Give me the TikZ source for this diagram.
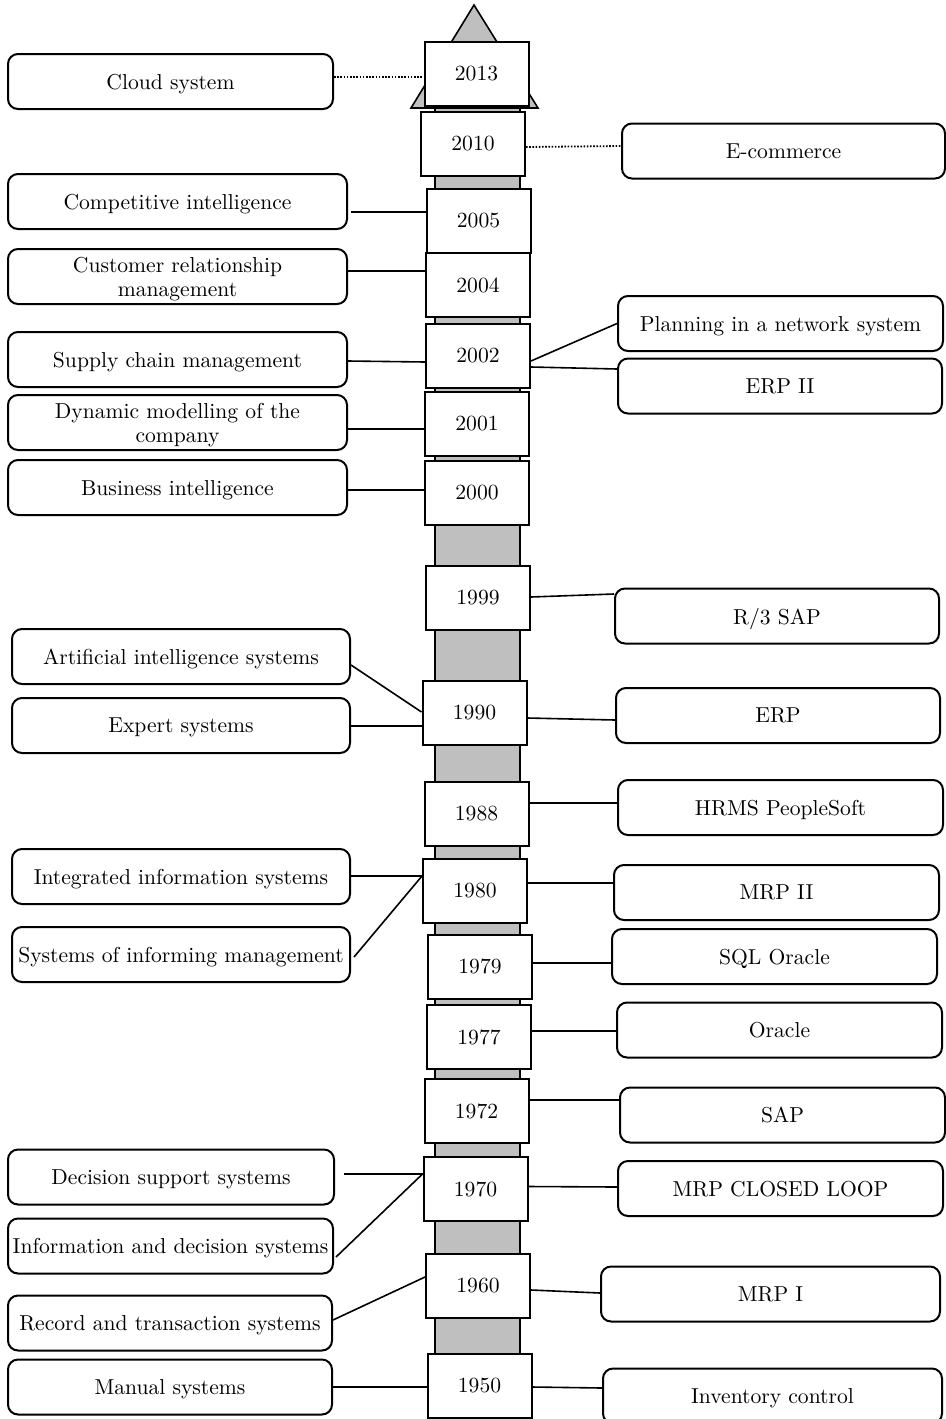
\documentclass[tikz,border=0pt]{standalone}
\usepackage{tikz}
\definecolor{shaftgray}{RGB}{191,191,191}
\tikzset{
  yr/.style={draw, fill=white, line width=1pt, minimum width=52pt, minimum height=32pt, inner sep=0pt, font=\fontsize{10.8}{12.5}\selectfont},
  lbox/.style={draw, fill=white, rounded corners=5pt, line width=1pt, minimum height=27.5pt, inner sep=0pt, text depth=0pt, align=center, font=\fontsize{10.8}{12}\selectfont},
  conn/.style={line width=0.8pt},
  dotconn/.style={line width=0.9pt, dash pattern=on 0.8pt off 0.8pt}
}
\begin{document}
\begin{tikzpicture}[x=0.5pt, y=-0.5pt]
\useasboundingbox (0,0) rectangle (946,1419);
% shaft and arrow head
\draw[fill=shaftgray, line width=1pt] (435,108) rectangle (520,1419);
\draw[fill=shaftgray, line width=0.8pt, line join=miter] (474,5) -- (538,108) -- (411,108) -- cycle;
% year boxes
\node[yr] (y2013) at (476.5,73.5) {2013};
\node[yr] (y2010) at (473,144) {2010};
\node[yr] (y2005) at (478.5,221) {2005};
\node[yr] (y2004) at (478,285) {2004};
\node[yr] (y2002) at (478,355.5) {2002};
\node[yr] (y2001) at (477,424) {2001};
\node[yr] (y2000) at (477,492.5) {2000};
\node[yr] (y1999) at (478,597.5) {1999};
\node[yr] (y1990) at (474.5,713) {1990};
\node[yr] (y1988) at (476.5,814) {1988};
\node[yr] (y1980) at (475,891) {1980};
\node[yr] (y1979) at (480,966.5) {1979};
\node[yr] (y1977) at (479,1037) {1977};
\node[yr] (y1972) at (476.5,1111) {1972};
\node[yr] (y1970) at (475.5,1189) {1970};
\node[yr] (y1960) at (478,1286) {1960};
\node[yr] (y1950) at (479.5,1386) {1950};
% left boxes
\node[lbox, minimum width=162.5pt] (cloud) at (170.5,81.5) {Cloud system};
\node[lbox, minimum width=169.5pt] (comp) at (177.5,201.5) {Competitive intelligence};
\node[lbox, minimum width=169.5pt] (crm) at (177.5,276.5) {Customer relationship\\management};
\node[lbox, minimum width=169.5pt] (scm) at (177.5,359.5) {Supply chain management};
\node[lbox, minimum width=169.5pt] (dyn) at (177.5,422.5) {Dynamic modelling of the\\company};
\node[lbox, minimum width=169.5pt] (bi) at (177.5,487.5) {Business intelligence};
\node[lbox, minimum width=169pt] (ai) at (181,656.5) {Artificial intelligence systems};
\node[lbox, minimum width=169pt] (expert) at (181,725.5) {Expert systems};
\node[lbox, minimum width=169pt] (integ) at (181,876.5) {Integrated information systems};
\node[lbox, minimum width=169pt] (sim) at (181,954.5) {Systems of informing management};
\node[lbox, minimum width=163pt] (dss) at (171,1177) {Decision support systems};
\node[lbox, minimum width=162.5pt] (ids) at (170.5,1246) {Information and decision systems};
\node[lbox, minimum width=162pt] (rts) at (170,1323) {Record and transaction systems};
\node[lbox, minimum width=162pt] (manual) at (170,1387) {Manual systems};
% right boxes
\node[lbox, minimum width=161.5pt] (ecom) at (783.5,151) {E-commerce};
\node[lbox, minimum width=162.5pt] (plan) at (780.5,323.5) {Planning in a network system};
\node[lbox, minimum width=162pt] (erp2) at (780,386) {ERP II};
\node[lbox, minimum width=162pt] (r3) at (777,616) {R/3 SAP};
\node[lbox, minimum width=162pt] (erp) at (778,715.5) {ERP};
\node[lbox, minimum width=162.5pt] (hrms) at (780.5,807.5) {HRMS PeopleSoft};
\node[lbox, minimum width=162.5pt] (mrp2) at (776.5,892.5) {MRP II};
\node[lbox, minimum width=162.5pt] (sql) at (774.5,956.5) {SQL Oracle};
\node[lbox, minimum width=162.5pt] (oracle) at (779.5,1030) {Oracle};
\node[lbox, minimum width=162.5pt] (sap) at (782.5,1115) {SAP};
\node[lbox, minimum width=162.5pt] (mrpcl) at (780.5,1188.5) {MRP CLOSED LOOP};
\node[lbox, minimum width=169.5pt] (mrp1) at (770.5,1294) {MRP I};
\node[lbox, minimum width=169.5pt] (inv) at (772.5,1396) {Inventory control};
% connectors
\draw[dotconn] ([yshift=2.25pt]cloud.east) -- ([yshift=-1.75pt]y2013.west);
\draw[dotconn] ([yshift=-1.5pt]y2010.east) -- ([yshift=2.5pt]ecom.west);
\draw[conn] ([xshift=1.5pt,yshift=-5.25pt]comp.east) -- ([yshift=4.5pt]y2005.west);
\draw[conn] ([yshift=2.75pt]crm.east) -- ([yshift=7pt]y2004.west);
\draw[conn] ([yshift=-0.75pt]scm.east) -- ([yshift=-3.25pt]y2002.west);
\draw[conn] ([yshift=-2.75pt]y2002.east) -- (plan.west);
\draw[conn] ([yshift=-5.75pt]y2002.east) -- ([yshift=8.5pt]erp2.west);
\draw[conn] ([yshift=-3.25pt]dyn.east) -- ([yshift=-2.5pt]y2001.west);
\draw[conn] ([yshift=-1.25pt]bi.east) -- ([yshift=1.25pt]y2000.west);
\draw[conn] ([yshift=0.25pt]y1999.east) -- ([yshift=11pt]r3.west);
\draw[conn] ([yshift=-4.25pt]ai.east) -- ([yshift=0.5pt]y1990.west);
\draw[conn] ([yshift=-0.25pt]expert.east) -- ([yshift=-6.5pt]y1990.west);
\draw[conn] ([yshift=-2.5pt]y1990.east) -- ([yshift=-2.25pt]erp.west);
\draw[conn] ([yshift=5.5pt]y1988.east) -- ([yshift=2.25pt]hrms.west);
\draw[conn] ([yshift=0.25pt]integ.east) -- ([yshift=7.5pt]y1980.west);
\draw[conn] ([xshift=1.5pt,yshift=-1.25pt]sim.east) -- ([yshift=7.5pt]y1980.west);
\draw[conn] ([yshift=4pt]y1980.east) -- ([yshift=4.75pt]mrp2.west);
\draw[conn] ([yshift=1.75pt]y1979.east) -- ([yshift=-3.25pt]sql.west);
\draw[conn] ([yshift=3pt]y1977.east) -- ([yshift=-0.5pt]oracle.west);
\draw[conn] ([yshift=5.5pt]y1972.east) -- ([yshift=7.5pt]sap.west);
\draw[conn] ([xshift=4.5pt,yshift=1.5pt]dss.east) -- ([yshift=7.5pt]y1970.west);
\draw[conn] ([xshift=1pt,yshift=-5.5pt]ids.east) -- ([yshift=7.5pt]y1970.west);
\draw[conn] ([yshift=1.25pt]y1970.east) -- ([yshift=0.75pt]mrpcl.west);
\draw[conn] ([yshift=1.5pt]rts.east) -- ([yshift=4.5pt]y1960.west);
\draw[conn] ([yshift=-2pt]y1960.east) -- ([yshift=0.5pt]mrp1.west);
\draw[conn] (manual.east) -- ([yshift=-0.5pt]y1950.west);
\draw[conn] ([yshift=-0.5pt]y1950.east) -- ([yshift=4pt]inv.west);
\end{tikzpicture}
\end{document}
